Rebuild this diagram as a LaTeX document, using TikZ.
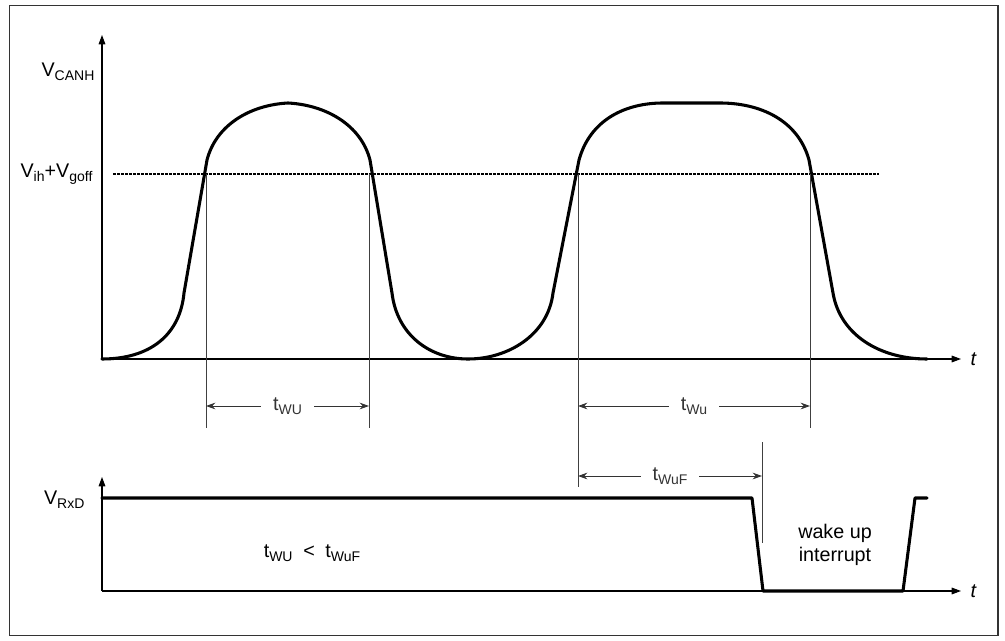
\documentclass[tikz,border=0pt]{standalone}
\usepackage{fontspec}
\setmainfont{Liberation Sans}
\usetikzlibrary{arrows.meta}
\newcommand{\sbs}[1]{\raisebox{-2.8pt}{\fontsize{10.5}{11}\selectfont #1}}
\begin{document}
\begin{tikzpicture}[x=0.75pt,y=-0.75pt,
  wave/.style={line width=2.3pt,line join=round,line cap=round},
  axis/.style={line width=0.8pt,-{Triangle[length=7pt,width=5pt]}},
  guide/.style={line width=0.7pt,black!75},
  dim/.style={line width=0.7pt,black!80,{Stealth[length=7pt,width=5pt]}-{Stealth[length=7pt,width=5pt]}},
  lbl/.style={font=\fontsize{14.8}{17.5}\selectfont,inner sep=1pt},
  dlbl/.style={lbl,fill=white,inner xsep=9pt}]
\useasboundingbox (0,0) rectangle (1005,641);
\draw[line width=0.8pt,black!80] (9.5,5.5) rectangle (998,635.5);

% upper axes
\coordinate (o1) at (102,359);
\coordinate (y1) at (102,35);
\coordinate (x1) at (961,359);
\draw[axis] (o1) -- (y1);
\draw[axis] (o1) -- (x1);
\node[lbl,anchor=west] (t1) at (969,359) {\textit{t}};
\node[lbl,anchor=east] (vcanh) at (96,72) {V\sbs{CANH}};
\node[lbl,anchor=east] (vth) at (94,174) {V\sbs{ih}+V\sbs{goff}};

% threshold
\coordinate (th0) at (113,174);
\coordinate (th1) at (879,174);
\draw[line width=1.4pt,dash pattern=on 2.2pt off 0.8pt] (th0) -- (th1);

% CANH waveform
\draw[wave] (102,359) .. controls (150,359) and (180,335) .. (184,293)
  -- (207,160) .. controls (216,125) and (250,105) .. (288,103)
  .. controls (326,105) and (361,125) .. (370,160)
  -- (392,293) .. controls (397,335) and (430,359) .. (468,359)
  .. controls (508,359) and (548,335) .. (553,293)
  -- (579,160) .. controls (590,120) and (625,103) .. (663,103)
  -- (720,103) .. controls (760,103) and (798,120) .. (809,160)
  -- (833,293) .. controls (840,335) and (880,359) .. (927,359);

% guides
\coordinate (g1a) at (206,174); \coordinate (g1b) at (206,428);
\coordinate (g2a) at (369,174); \coordinate (g2b) at (369,428);
\coordinate (g3a) at (578,174); \coordinate (g3b) at (578,487);
\coordinate (g4a) at (810,174); \coordinate (g4b) at (810,428);
\coordinate (g5a) at (762,442); \coordinate (g5b) at (762,543);
\draw[guide] (g1a) -- (g1b);
\draw[guide] (g2a) -- (g2b);
\draw[guide] (g3a) -- (g3b);
\draw[guide] (g4a) -- (g4b);
\draw[guide] (g5a) -- (g5b);

% dimensions
\coordinate (d1a) at (206,406); \coordinate (d1b) at (369,406);
\draw[dim] (d1a) -- node[dlbl] (twu) {t\sbs{WU}} (d1b);
\coordinate (d2a) at (578,406); \coordinate (d2b) at (810,406);
\draw[dim] (d2a) -- node[dlbl] (twu2) {t\sbs{Wu}} (d2b);
\coordinate (d3a) at (578,476); \coordinate (d3b) at (762,476);
\draw[dim] (d3a) -- node[dlbl] (twuf) {t\sbs{WuF}} (d3b);

% lower axes
\coordinate (o2) at (102,591);
\coordinate (y2) at (102,477);
\coordinate (x2) at (961,591);
\draw[axis] (o2) -- (y2);
\draw[axis] (o2) -- (x2);
\node[lbl,anchor=west] (t2) at (969,591) {\textit{t}};
\node[lbl,anchor=east] (vrxd) at (86,500) {V\sbs{RxD}};

% RxD waveform
\draw[wave] (102,498) -- (752,498) -- (763,591) -- (903,591) -- (915,498) -- (927,498);

\node[lbl,align=center] (wake) at (835,545) {wake up\\interrupt};
\node[lbl] (cmp) at (312,553) {t\sbs{WU}\hspace{8pt}<\hspace{8pt}t\sbs{WuF}};
\end{tikzpicture}
\end{document}
